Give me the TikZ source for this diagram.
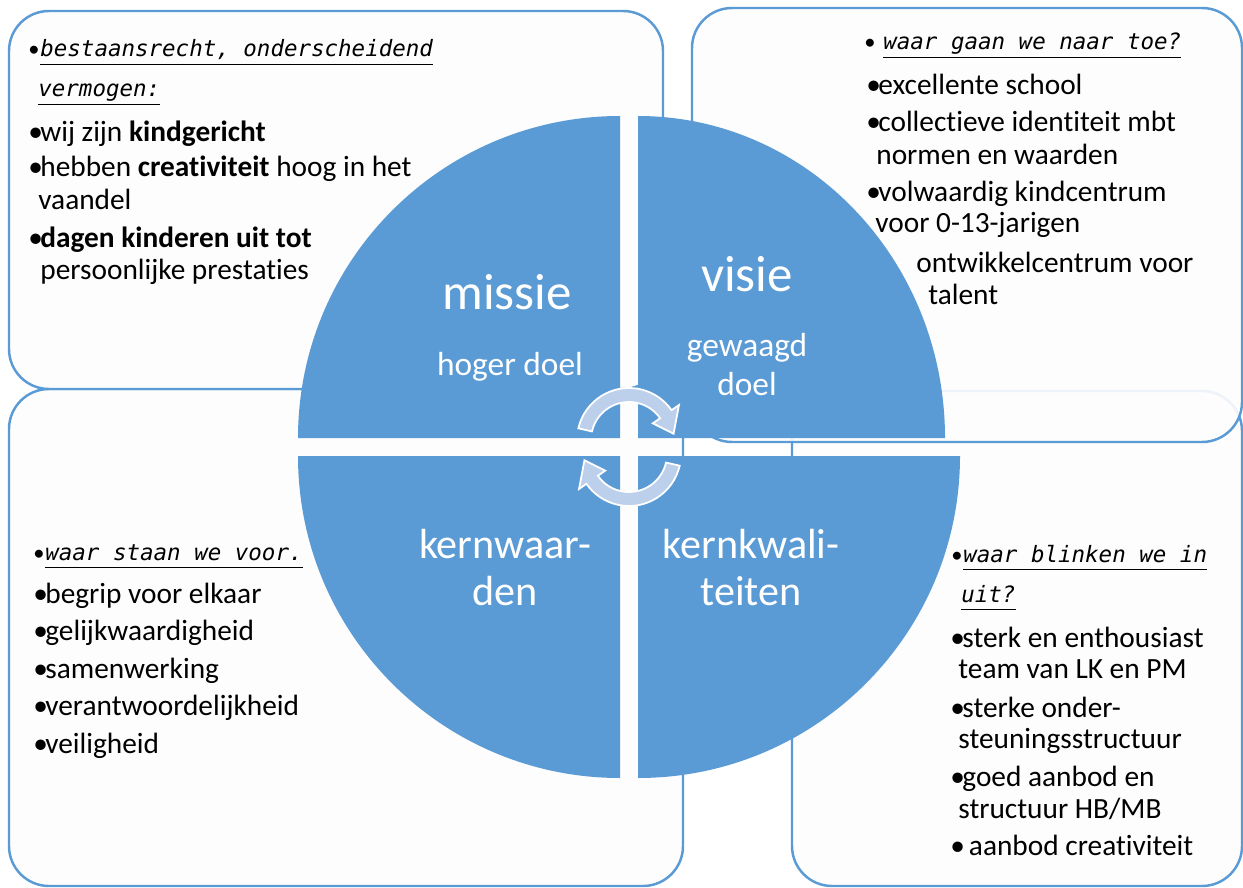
\documentclass[tikz,border=0pt]{standalone}
\usepackage{fontspec}
\setmainfont{Carlito}[Ligatures=NoCommon]
\newfontfamily\handfont{DejaVu Sans Mono}
\usepackage{xcolor}
\usetikzlibrary{positioning}

\definecolor{kwblue}{HTML}{5B9BD5}
\definecolor{kwpale}{HTML}{BCD0EC}
\definecolor{kwbox}{HTML}{FDFDFD}

\newcommand{\blt}{\makebox[0.24cm][l]{•}}
\newcommand{\hd}[1]{\underline{\handfont\itshape #1\vphantom{g}}}

\tikzset{
 box/.style={draw=kwblue, line width=1.4pt, fill=kwbox, rounded corners=0.8cm},
 txt/.style={anchor=base west, inner sep=0pt, font=\fontsize{16.7}{19}\selectfont},
 hdtxt/.style={anchor=base west, inner sep=0pt, font=\fontsize{12.8}{15}\selectfont},
 big/.style={anchor=base, inner sep=0pt, text=white, font=\fontsize{29}{34}\selectfont},
 mid/.style={anchor=base, inner sep=0pt, text=white, font=\fontsize{24}{28}\selectfont},
 small/.style={anchor=base, inner sep=0pt, text=white, font=\fontsize{19}{22}\selectfont},
 turn/.style={fill=kwpale, draw=white, line width=1pt}
}

\newcommand{\turnarrow}{%
 \filldraw[turn] (193:52) arc[start angle=193,end angle=325,radius=52] -- (325:61)
  -- (352:45) -- (325:29) -- (325:38) arc[start angle=325,end angle=193,radius=38] -- cycle;}

\begin{document}
\begin{tikzpicture}[x=0.02cm,y=-0.02cm]
\useasboundingbox (0,0) rectangle (1243,888);

\def\r{322} \def\rv{307}
% boxes
\draw[box] (9,389) rectangle (683,886); %BL
\draw[box] (792,391) rectangle (1242,886); %BR
\draw[box] (9,11) rectangle (663,389); %TL
\draw[box, fill opacity=0.9] (692,8) rectangle (1242,442); %TR

\node[hdtxt] (blh) at (33,560) {\blt\hd{waar staan we voor.}};

% circle
\fill[kwblue] (620,438) -- (298,438) arc[start angle=180,end angle=270,radius=\r] -- cycle; %missie
\fill[kwblue] (638,438) -- (638,116) arc[start angle=270,end angle=360,x radius=\rv,y radius=\r] -- cycle; %visie
\fill[kwblue] (620,456) -- (298,456) arc[start angle=180,end angle=90,radius=\r] -- cycle; %kernwaarden
\fill[kwblue] (638,456) -- (960,456) arc[start angle=0,end angle=90,radius=\r] -- cycle; %kernkwaliteiten

\begin{scope}[shift={(629,440)}]
 \turnarrow
\end{scope}
\begin{scope}[shift={(629,454)},rotate=180]
 \turnarrow
\end{scope}

\node[big] (missie) at (507,310) {missie};
\node[small] (hoger) at (510,375) {hoger doel};
\node[big] (visie) at (747,292) {visie};
\node[small] (gewaagd) at (747,357) {gewaagd};
\node[small] (doel) at (747,395) {doel};
\node[mid] (kw1) at (505,558) {kernwaar-};
\node[mid] (kw2) at (505,605) {den};
\node[mid] (kk1) at (751,558) {kernkwali-};
\node[mid] (kk2) at (751,605) {teiten};

% top left
\node[hdtxt] (tlh1) at (28,57) {\blt\hd{bestaansrecht, onderscheidend}};
\node[hdtxt] (tlh2) at (38,97) {\hd{vermogen:}};
\node[txt] (tl1) at (28,142) {\blt wij zijn \textbf{kindgericht}};
\node[txt] (tl2) at (28,177) {\blt hebben \textbf{creativiteit} hoog in het};
\node[txt] (tl3) at (38,210) {vaandel};
\node[txt] (tl4) at (28,248) {\blt\textbf{dagen kinderen uit tot}};
\node[txt] (tl5) at (40,280) {persoonlijke prestaties};

% top right
\node[hdtxt] (trh) at (864,50) {\makebox[0.38cm][l]{•}\hd{waar gaan we naar toe?}};
\node[txt] (tr1) at (866,95) {\blt excellente school};
\node[txt] (tr2) at (866,132) {\blt collectieve identiteit mbt};
\node[txt] (tr3) at (876,165) {normen en waarden};
\node[txt] (tr4) at (866,202) {\blt volwaardig kindcentrum};
\node[txt] (tr5) at (875,233) {voor 0-13-jarigen};
\node[txt] (tr6) at (916,273) {ontwikkelcentrum voor};
\node[txt] (tr7) at (928,304) {talent};

% bottom left
\foreach \t [count=\i] in {begrip voor elkaar,gelijkwaardigheid,samenwerking,verantwoordelijkheid,veiligheid}
 \node[txt] (bl\i) at (33,565.5+37.5*\i) {\blt\t};

% bottom right
\node[hdtxt] (brh1) at (951,562) {\blt\hd{waar blinken we in}};
\node[hdtxt] (brh2) at (961,602) {\hd{uit?}};
\node[txt] (br1) at (950,647) {\blt sterk en enthousiast};
\node[txt] (br2) at (958,678) {team van LK en PM};
\node[txt] (br3) at (950,717) {\blt sterke onder-};
\node[txt] (br4) at (958,748) {steuningsstructuur};
\node[txt] (br5) at (950,786) {\blt goed aanbod en};
\node[txt] (br6) at (958,818) {structuur HB/MB};
\node[txt] (br7) at (950,855) {\blt{} aanbod creativiteit};

\end{tikzpicture}
\end{document}
